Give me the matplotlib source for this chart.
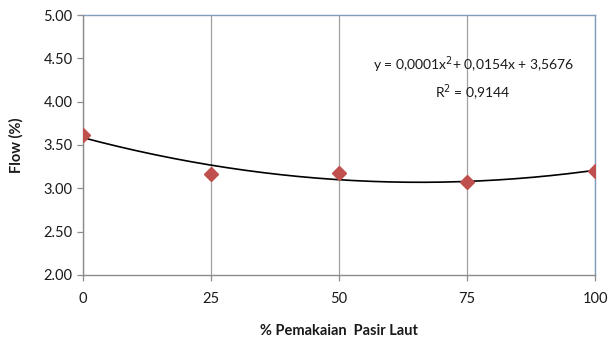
import numpy as np
import matplotlib
matplotlib.use("Agg")
import matplotlib.pyplot as plt

plt.rcParams['font.family'] = ['Lato', 'DejaVu Sans']

# Flow measurements against sea-sand usage
pasir_laut = [0, 25, 50, 75, 100]
flow = [3.62, 3.17, 3.18, 3.07, 3.20]
y_ticks = [2.00, 2.50, 3.00, 3.50, 4.00, 4.50, 5.00]
x_ticks = [0, 25, 50, 75, 100]
equation = "y = 0,0001x$^2$+ 0,0154x + 3,5676"
r_squared = "R$^2$ = 0,9144"

fig = plt.figure(figsize=(6.16, 3.47), dpi=100)
ax = fig.add_axes([83/616, 1 - 275/347, (595-83)/616, (275-15)/347])

# quadratic trend line through the measurements
coef = np.polyfit(pasir_laut, flow, 2)
xs = np.linspace(0, 100, 200)
ax.plot(xs, np.polyval(coef, xs), color='black', lw=1.2, zorder=3)
ax.plot(pasir_laut, flow, linestyle='none', marker='D', ms=7.5,
        color='#C0504D', zorder=4)

ax.set_xlim(0, 100)
ax.set_ylim(2, 5)
ax.set_xticks(x_ticks)
ax.set_xticklabels([str(v) for v in x_ticks])
ax.set_yticks(y_ticks)
ax.set_yticklabels([f"{v:.2f}" for v in y_ticks])
ax.xaxis.grid(True, color='#A0A0A0', lw=0.9)
ax.yaxis.grid(False)

for side in ('left', 'bottom'):
    ax.spines[side].set_color('#8C8C8C')
for side in ('top', 'right'):
    ax.spines[side].set_color('#7F9DBB')
for s in ax.spines.values():
    s.set_linewidth(1.0)

ax.tick_params(axis='both', colors='#8C8C8C', length=4, width=0.9,
               labelcolor='#1a1a1a', labelsize=10.5)
ax.tick_params(axis='x', pad=8)

ax.set_xlabel("% Pemakaian  Pasir Laut", fontsize=10.5, fontweight='bold',
              color='#1a1a1a', labelpad=13)
ax.set_ylabel("Flow (%)", fontsize=10.5, fontweight='bold',
              color='#1a1a1a', labelpad=14)

ax.text(0.762, 0.81, equation, transform=ax.transAxes, ha='center',
        va='center', fontsize=10, color='#1a1a1a')
ax.text(0.762, 0.70, r_squared, transform=ax.transAxes, ha='center',
        va='center', fontsize=10, color='#1a1a1a')

fig.savefig("out.png", dpi=100)
